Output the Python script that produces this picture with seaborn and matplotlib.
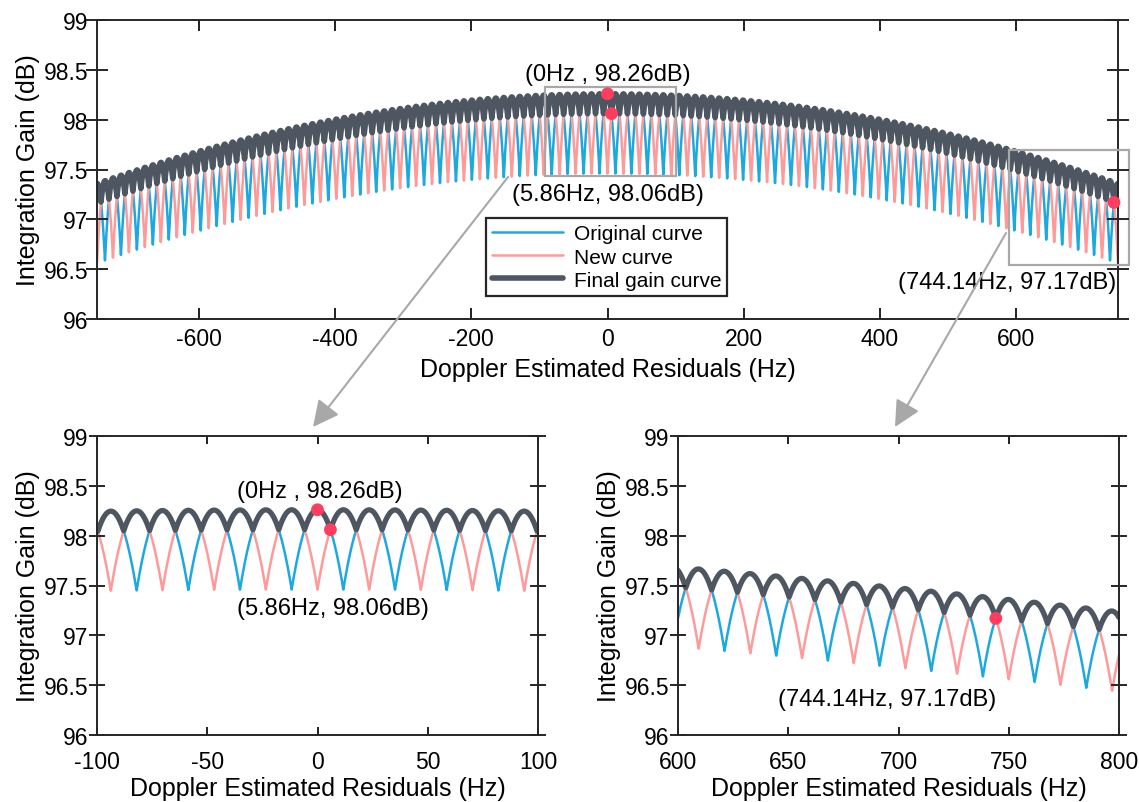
"""
Integration gain vs. Doppler estimation residual: full band plus two zoomed panels.
Writes out.png.
"""
import matplotlib
matplotlib.use("Agg")
import matplotlib.pyplot as plt
import numpy as np
import seaborn as sns
from matplotlib.patches import FancyArrowPatch, Rectangle
from matplotlib.ticker import FormatStrFormatter

# ---- values ---- #
peak_gain_db = 98.26        # final gain at 0 Hz
edge_gain_db = 97.36        # scallop peaks at +/-750 Hz
edge_freq_hz = 750.0
bin_spacing_hz = 23.4375    # distance between two scallop peaks
scallop_depth_db = 0.80     # loss half-way between two bins
freq_lo, freq_hi = -750.0, 800.0

marked_freq = [0.0, 5.86, 744.14]
marked_gain = [98.26, 98.06, 97.17]
marked_text = ["(0Hz , 98.26dB)", "(5.86Hz, 98.06dB)", "(744.14Hz, 97.17dB)"]

legend_labels = ["Original curve", "New curve", "Final gain curve"]
y_ticks = [96, 96.5, 97, 97.5, 98, 98.5, 99]
top_x_ticks = [-600, -400, -200, 0, 200, 400, 600]
left_x_ticks = [-100, -50, 0, 50, 100]
right_x_ticks = [600, 650, 700, 750, 800]

BLUE = "#1EA8E0"
PINK = "#FF9A9A"
DARK = "#4E5661"
DOT = "#FF3D5E"
GREY = "#A8A8A8"
INK = "#262626"

LABEL_FS = 18
TICK_FS = 16.5
NOTE_FS = 17

# ---- curves: bin envelope minus scalloping loss ---- #
freq = np.arange(freq_lo, freq_hi + 1e-9, 0.02)
envelope = peak_gain_db - (peak_gain_db - edge_gain_db) * (freq / edge_freq_hz) ** 2


def scallop(offset):
    d = np.abs((freq / bin_spacing_hz + offset + 0.5) % 1.0 - 0.5)
    return scallop_depth_db * (d / 0.5) ** 2


original = envelope - scallop(0.0)
new = envelope - scallop(0.5)
final = np.maximum(original, new)

sns.set_theme(style="ticks")
plt.rcParams.update({
    "font.family": ["Liberation Sans", "DejaVu Sans"],
    "axes.unicode_minus": False,
    "axes.axisbelow": False,
    "text.color": "black",
    "axes.labelcolor": "black",
    "xtick.direction": "in", "ytick.direction": "in",
    "xtick.top": True, "ytick.right": True,
})

fig = plt.figure(figsize=(11.39, 8.03), dpi=100)
W, H = 1139, 803


def px_axes(x0, y0, x1, y1):
    return fig.add_axes([x0 / W, 1 - y1 / H, (x1 - x0) / W, (y1 - y0) / H])


ax_top = px_axes(97, 21, 1118, 320)
ax_l = px_axes(97, 437, 538, 736)
ax_r = px_axes(678, 437, 1119, 736)


def draw_curves(ax, lo, hi, thick, ticks, labelpad):
    m = (freq >= lo - 1) & (freq <= hi + 1)
    for y, c, lw, lab in [(original, BLUE, 1.8, legend_labels[0]),
                          (new, PINK, 1.8, legend_labels[1]),
                          (final, DARK, thick, legend_labels[2])]:
        sns.lineplot(x=freq[m], y=y[m], color=c, lw=lw, ax=ax,
                     estimator=None, label=lab, legend=False)
    ax.set_xlim(lo, hi)
    ax.set_ylim(96, 99)
    ax.set_xticks(ticks)
    ax.set_yticks(y_ticks)
    ax.yaxis.set_major_formatter(FormatStrFormatter("%g"))
    ax.set_xlabel("Doppler Estimated Residuals (Hz)", fontsize=LABEL_FS,
                  labelpad=labelpad)
    ax.set_ylabel("Integration Gain (dB)", fontsize=LABEL_FS, labelpad=3)
    for s in ax.spines.values():
        s.set_color(INK)
        s.set_linewidth(1.4)


def inward_ticks(ax, xticks, length, xpad):
    """Inward tick marks on all four sides (MATLAB box style)."""
    ax.tick_params(direction="in", length=length, width=1.4, color=INK,
                   top=True, bottom=True, left=True, right=True,
                   labelsize=TICK_FS, labelcolor="black")
    ax.tick_params(axis="x", pad=xpad)
    ax.tick_params(axis="y", pad=6)
    kw = dict(ls="none", color=INK, ms=length, mew=1.4, clip_on=False,
              zorder=7)
    xt = ax.get_xaxis_transform()
    yt = ax.get_yaxis_transform()
    ax.plot(xticks, [0] * len(xticks), marker=2, transform=xt, **kw)
    ax.plot(xticks, [1] * len(xticks), marker=3, transform=xt, **kw)
    ax.plot([0] * len(y_ticks), y_ticks, marker=0, transform=yt, **kw)
    ax.plot([1] * len(y_ticks), y_ticks, marker=1, transform=yt, **kw)


# top panel
draw_curves(ax_top, -750, 750, 4.0, top_x_ticks, 5)
ax_top.add_patch(Rectangle((-92, 97.43), 192, 0.90, fill=False,
                           ec=GREY, lw=1.6, zorder=4))
ax_top.add_patch(Rectangle((590, 96.545), 176, 1.155, fill=False,
                           ec=GREY, lw=1.6, zorder=4, clip_on=False))
sns.scatterplot(x=marked_freq, y=marked_gain, color=DOT, s=85,
                edgecolor="none", ax=ax_top, zorder=6, clip_on=False,
                legend=False)
ax_top.text(0, 98.46, marked_text[0], ha="center", va="center", fontsize=NOTE_FS)
ax_top.text(0, 97.25, marked_text[1], ha="center", va="center", fontsize=NOTE_FS)
ax_top.text(748, 96.37, marked_text[2], ha="right", va="center", fontsize=NOTE_FS)
handles = ax_top.get_lines()[:3]
leg = ax_top.legend(handles, legend_labels, loc="lower left",
                    bbox_to_anchor=(0.381, 0.077),
                    fontsize=15, frameon=True, fancybox=False,
                    handlelength=3.4, borderpad=0.3, labelspacing=0.2,
                    handletextpad=0.5, borderaxespad=0)
leg.get_frame().set_edgecolor(INK)
leg.get_frame().set_linewidth(1.6)
leg.get_frame().set_alpha(1)
inward_ticks(ax_top, top_x_ticks, 8, 6)

# bottom-left zoom around 0 Hz
draw_curves(ax_l, -100, 100, 3.8, left_x_ticks, 2)
sns.scatterplot(x=marked_freq[:2], y=marked_gain[:2], color=DOT, s=85,
                edgecolor="none", ax=ax_l, zorder=6, legend=False)
ax_l.text(-36.5, 98.45, marked_text[0], ha="left", va="center", fontsize=NOTE_FS)
ax_l.text(-36.5, 97.27, marked_text[1], ha="left", va="center", fontsize=NOTE_FS)
inward_ticks(ax_l, left_x_ticks, 5.5, 11)

# bottom-right zoom around the band edge
draw_curves(ax_r, 600, 800, 3.8, right_x_ticks, 2)
sns.scatterplot(x=marked_freq[2:], y=marked_gain[2:], color=DOT, s=85,
                edgecolor="none", ax=ax_r, zorder=6, legend=False)
ax_r.text(694.8, 96.36, marked_text[2], ha="center", va="center", fontsize=NOTE_FS)
inward_ticks(ax_r, right_x_ticks, 5.5, 11)

# connector arrows (figure pixels)
for (x0, y0), (x1, y1) in [((508, 178), (313, 428)), ((1006, 234), (895, 428))]:
    fig.add_artist(FancyArrowPatch(
        (x0 / W, 1 - y0 / H), (x1 / W, 1 - y1 / H), transform=fig.transFigure,
        arrowstyle="-|>,head_length=10,head_width=5", mutation_scale=1.6,
        color=GREY, lw=1.5, shrinkA=0, shrinkB=0))

fig.savefig("out.png", dpi=100)
plt.close(fig)
